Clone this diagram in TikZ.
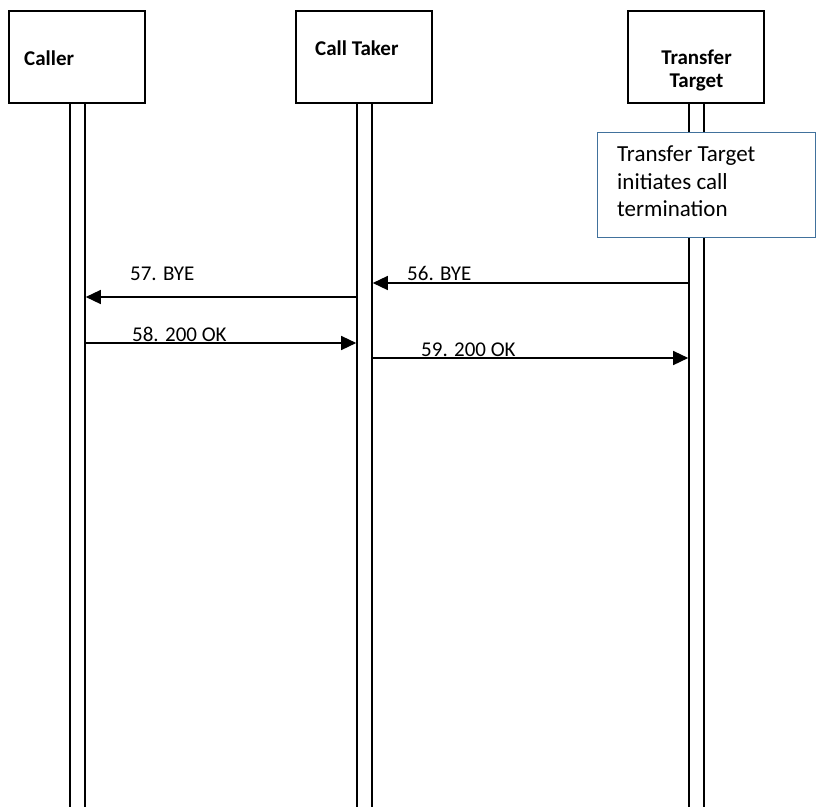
\documentclass[tikz,border=0pt]{standalone}
\usepackage{fontspec}
\setmainfont{Carlito}
\usetikzlibrary{arrows.meta}
\definecolor{noteblue}{HTML}{41719C}
\begin{document}
\begin{tikzpicture}[x=1pt,y=-1pt,
  headbox/.style={draw=black, line width=1.5pt, fill=white, minimum width=136pt, minimum height=92pt, inner sep=0pt},
  hdrtext/.style={font=\fontsize{21}{23}\selectfont\bfseries, inner sep=0pt},
  lifebar/.style={draw=black, line width=1.6pt, fill=white, minimum width=15pt, minimum height=720pt, inner sep=0pt, anchor=north},
  msg/.style={line width=1.4pt, -{Triangle[length=15pt,width=14pt]}},
  msglabel/.style={font=\fontsize{21}{25}\selectfont, inner sep=0pt, anchor=base west},
  notebox/.style={draw=noteblue, line width=1.3pt, fill=white, minimum width=218pt, minimum height=105pt, inner sep=0pt, anchor=north west},
  notetext/.style={font=\fontsize{23}{27.5}\selectfont, inner sep=0pt, align=left}]
\clip (0,0) rectangle (816,806);
\fill[white] (0,0) rectangle (816,806);

% participant heads
\node[headbox] (callerbox) at (77,57) {};
\node[headbox] (takerbox) at (364,57) {};
\node[headbox] (targetbox) at (696,57) {};
\node[hdrtext, anchor=base west] (callerlbl) at (24,65) {Caller};
\node[hdrtext, anchor=base west] (takerlbl) at (315,55) {Call Taker};
% base anchor of a multi-line node sits on its last line
\node[hdrtext, align=center, anchor=base] (targetlbl) at (696.5,87) {Transfer\\Target};

% lifelines
\node[lifebar] (callerbar) at (77.5,102) {};
\node[lifebar] (takerbar) at (364.5,102) {};
\node[lifebar] (targetbar) at (696.5,102) {};

% note on the Transfer Target lifeline
\node[notebox] (note) at (597,132) {};
\node[notetext, anchor=base west] (notelbl) at (617,216.5) {Transfer Target\\initiates call\\termination};

% messages
\draw[msg] (targetbar.west |- 0,283) -- (takerbar.east |- 0,283);
\node[msglabel] (m56) at (407,280) {56. BYE};
\draw[msg] (takerbar.west |- 0,297) -- (callerbar.east |- 0,297);
\node[msglabel] (m57) at (130,280) {57. BYE};
\draw[msg] (callerbar.east |- 0,343) -- (takerbar.west |- 0,343);
\node[msglabel] (m58) at (132,341.5) {58. 200 OK};
\draw[msg] (takerbar.east |- 0,358) -- (targetbar.west |- 0,358);
\node[msglabel] (m59) at (421,356.5) {59. 200 OK};
\end{tikzpicture}
\end{document}
